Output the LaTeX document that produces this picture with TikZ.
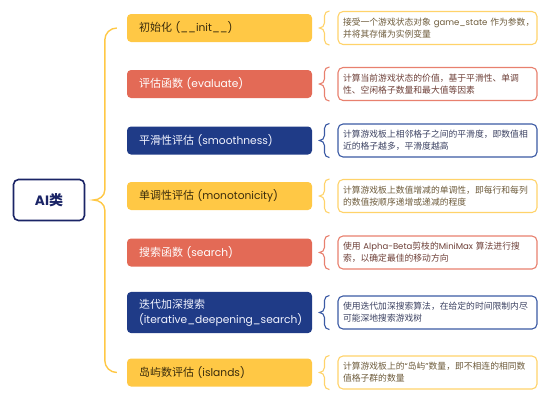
\documentclass[tikz,border=0pt]{standalone}
\usepackage{fontspec}
\setmainfont[Scale=0.97]{Poppins}
\newfontfamily\cjkfont{Noto Sans CJK SC}
\newcommand{\zh}[1]{{\cjkfont #1}}
\usetikzlibrary{positioning,calc}
\definecolor{yelfill}{HTML}{FFC845}
\definecolor{yeltext}{HTML}{3A2C0C}
\definecolor{yelline}{HTML}{FFD36A}
\definecolor{yelnote}{HTML}{6E5C3C}
\definecolor{redfill}{HTML}{E36A56}
\definecolor{redtext}{HTML}{FFFFFF}
\definecolor{redline}{HTML}{E8806E}
\definecolor{rednote}{HTML}{6E4038}
\definecolor{blufill}{HTML}{1F3B87}
\definecolor{blutext}{HTML}{F2F4FF}
\definecolor{bluline}{HTML}{3B5AA4}
\definecolor{blunote}{HTML}{3C4262}
\definecolor{rootnavy}{HTML}{1A2466}
\tikzset{
    root node/.style={
        draw=rootnavy,
        line width=1.6pt,
        rounded corners=5pt,
        fill=white,
        text=rootnavy,
        minimum width=71pt,
        minimum height=41pt,
        font=\fontsize{14}{16}\selectfont\bfseries
    },
    topic nodes/.style={
        rounded corners=4pt,
        minimum width=185pt,
        minimum height=28pt,
        text width=161pt,
        inner xsep=12pt,
        inner ysep=7pt,
        align=left,
        font=\fontsize{11}{15}\selectfont
    },
    topic/.style={topic nodes, fill=#1fill, text=#1text},
    note nodes/.style={
        draw,
        line width=1.1pt,
        rounded corners=5pt,
        fill=white,
        minimum width=199pt,
        minimum height=33pt,
        text width=189pt,
        inner xsep=5pt,
        align=left,
        font=\fontsize{8.8}{12}\selectfont
    },
    note/.style={note nodes, draw=#1line, text=#1note},
    trunk/.style={draw=yelfill, line width=1.4pt},
    note brace/.style={draw=#1line, line width=1.1pt}
}
\begin{document}
\begin{tikzpicture}[x=1pt,y=-1pt]
    \useasboundingbox (0,0) rectangle (548,402);
    \node[root node] (root) at (49,200) {AI\zh{类}};
    \foreach \i/\y/\k/\txt/\desc in {
        1/28/yel/{\zh{初始化} (\_\_init\_\_)}/{\zh{接受一个游戏状态对象}~game\_state~\zh{作为参数，}\\\zh{并将其存储为实例变量}},
        2/84/red/{\zh{评估函数} (evaluate)}/{\zh{计算当前游戏状态的价值，基于平滑性、单调}\\\zh{性、空闲格子数量和最大值等因素}},
        3/140.5/blu/{\zh{平滑性评估} (smoothness)}/{\zh{计算游戏板上相邻格子之间的平滑度，即数值相}\\\zh{近的格子越多，平滑度越高}},
        4/196/yel/{\zh{单调性评估} (monotonicity)}/{\zh{计算游戏板上数值增减的单调性，即每行和每列}\\\zh{的数值按顺序递增或递减的程度}},
        5/252.5/red/{\zh{搜索函数} (search)}/{\zh{使用}~Alpha-Beta\zh{剪枝的}MiniMax~\zh{算法进行搜}\\\zh{索，以确定最佳的移动方向}},
        6/312.5/blu/{\zh{迭代加深搜索}\\(iterative\_deepening\_search)}/{\zh{使用迭代加深搜索算法，在给定的时间限制内尽}\\\zh{可能深地搜索游戏树}},
        7/372.5/yel/{\zh{岛屿数评估} (islands)}/{\zh{计算游戏板上的}“\zh{岛屿}”\zh{数量，即不相连的相同数}\\\zh{值格子群的数量}}}
    {
        \node[topic=\k] (m\i) at (219.5,\y) {\txt};
        \node[note=\k] (d\i) at (437.5,\y) {\desc};
        \draw[note brace=\k]
            ([xshift=-8pt]d\i.north west) to[out=180,in=90] ([xshift=-13pt,yshift=-5pt]d\i.north west)
            -- ([xshift=-13pt,yshift=5pt]d\i.west) to[out=-90,in=0] ([xshift=-18pt]d\i.west)
            to[out=0,in=90] ([xshift=-13pt,yshift=-5pt]d\i.west)
            -- ([xshift=-13pt,yshift=5pt]d\i.south west) to[out=-90,in=180] ([xshift=-8pt]d\i.south west);
    }
    % brace from the root to the topics
    \coordinate (tip) at ([xshift=8pt]root.east);
    \coordinate (bar) at ([xshift=-22pt]m1.west);
    \draw[trunk]
        ([xshift=-10pt]m1.west) to[out=180,in=90] ([xshift=-22pt,yshift=-12pt]m1.west)
        -- ([yshift=10pt]bar |- tip) to[out=-90,in=0] (tip)
        to[out=0,in=90] ([yshift=-10pt]bar |- tip)
        -- ([xshift=-22pt,yshift=12pt]m7.west) to[out=-90,in=180] ([xshift=-10pt]m7.west);
\end{tikzpicture}
\end{document}
